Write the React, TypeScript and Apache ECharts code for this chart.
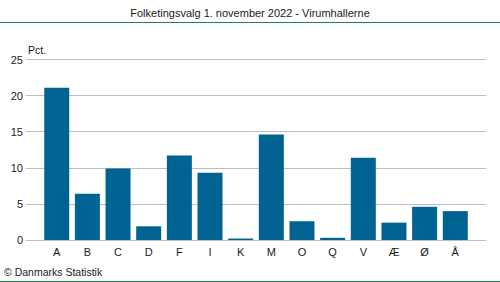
import React, { useEffect, useRef } from "react";
import * as echarts from "echarts";

const categories = ["A", "B", "C", "D", "F", "I", "K", "M", "O", "Q", "V", "Æ", "Ø", "Å"];
const values = [21.1, 6.4, 9.9, 1.9, 11.7, 9.3, 0.2, 14.6, 2.6, 0.3, 11.4, 2.4, 4.6, 4.0];
const yTicks = [0, 5, 10, 15, 20, 25];

const FONT = "'Liberation Sans', Arial, sans-serif";

export default function App() {
  const ref = useRef<HTMLDivElement>(null);
  useEffect(() => {
    if (!ref.current) return;
    const chart = echarts.init(ref.current, null, { renderer: "svg" });
    chart.setOption({
      animation: false,
      backgroundColor: "#ffffff",
      title: {
        text: "Folketingsvalg 1. november 2022 - Virumhallerne",
        left: "center",
        top: 5,
        padding: 0,
        textStyle: { fontFamily: FONT, fontSize: 11, fontWeight: "normal", color: "#1a1a1a", lineHeight: 16 },
      },
      graphic: [
        { type: "line", shape: { x1: 0, y1: 22.5, x2: 500, y2: 22.5 }, style: { stroke: "#138a4a", lineWidth: 1 } },
        { type: "line", shape: { x1: 0, y1: 281.5, x2: 500, y2: 281.5 }, style: { stroke: "#138a4a", lineWidth: 1 } },
        { type: "text", x: 28, y: 44, style: { text: "Pct.", fontFamily: FONT, fontSize: 10.5, fill: "#1a1a1a" } },
        { type: "text", x: 4, y: 266, style: { text: "© Danmarks Statistik", fontFamily: FONT, fontSize: 10.5, fill: "#1a1a1a" } },
      ],
      grid: [
        { left: 26, right: 14, top: 59.5, bottom: 42 },
        { left: 41.4, right: 29.4, top: 59.5, bottom: 42 },
      ],
      xAxis: [
        { gridIndex: 0, type: "value", show: false, min: 0, max: 1 },
        {
          gridIndex: 1,
          type: "category",
          data: categories,
          axisLine: { show: false },
          axisTick: { show: false },
          axisLabel: { fontFamily: FONT, fontSize: 11, color: "#1a1a1a", margin: 6 },
        },
      ],
      yAxis: [
        {
          gridIndex: 0,
          type: "value",
          min: 0,
          max: 25,
          interval: 5,
          axisLine: { show: false },
          axisTick: { show: false },
          axisLabel: {
            fontFamily: FONT,
            fontSize: 11,
            color: "#1a1a1a",
            margin: 3,
            formatter: (v: number) => (yTicks.includes(v) ? String(v) : ""),
          },
          splitLine: { lineStyle: { color: "#bcbcc6", width: 1 } },
        },
        { gridIndex: 1, type: "value", min: 0, max: 25, interval: 5, show: false, splitLine: { show: false } },
      ],
      series: [
        {
          type: "bar",
          xAxisIndex: 1,
          yAxisIndex: 1,
          data: values,
          barWidth: 25,
          itemStyle: { color: "#006391" },
        },
      ],
    });
    return () => chart.dispose();
  }, []);
  return <div ref={ref} style={{ width: 500, height: 282, position: "absolute", left: 0, top: 0 }} />;
}
